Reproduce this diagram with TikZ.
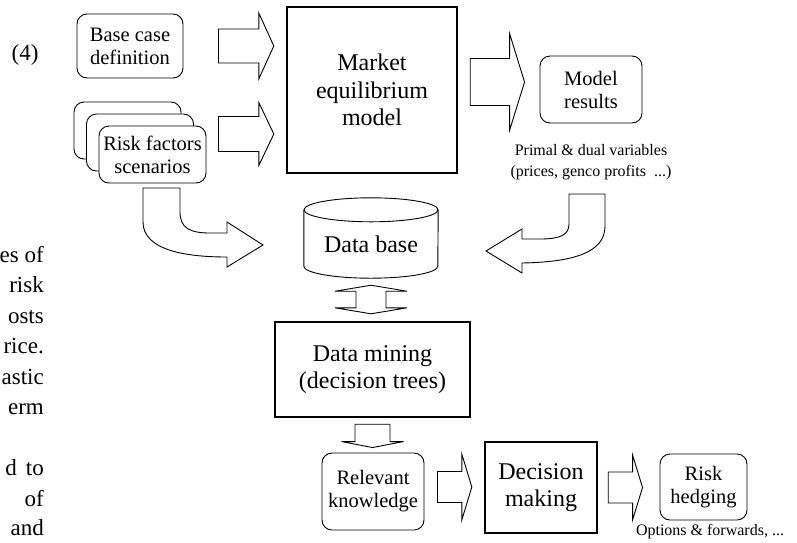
\documentclass[tikz,border=0pt]{standalone}
\usepackage{fontspec}
\setmainfont{Liberation Serif}
\usetikzlibrary{calc}

% fat arrows: tail, tip, shaft half width, head half width, head length
\newcommand{\rarrow}[5]{\draw[fat] let \p1=(#1), \p2=(#2) in (\x1,\y1+#3pt) -- (\x2-#5pt,\y1+#3pt) -- (\x2-#5pt,\y1+#4pt) -- (\x2,\y1) -- (\x2-#5pt,\y1-#4pt) -- (\x2-#5pt,\y1-#3pt) -- (\x1,\y1-#3pt) -- cycle;}
\newcommand{\darrow}[5]{\draw[fat] let \p1=(#1), \p2=(#2) in (\x1-#3pt,\y1) -- (\x1-#3pt,\y2+#5pt) -- (\x1-#4pt,\y2+#5pt) -- (\x1,\y2) -- (\x1+#4pt,\y2+#5pt) -- (\x1+#3pt,\y2+#5pt) -- (\x1+#3pt,\y1) -- cycle;}
\newcommand{\udarrow}[5]{\draw[fat] let \p1=(#1), \p2=(#2) in (\x1,\y1) -- (\x1+#4pt,\y1-#5pt) -- (\x1+#3pt,\y1-#5pt) -- (\x1+#3pt,\y2+#5pt) -- (\x1+#4pt,\y2+#5pt) -- (\x1,\y2) -- (\x1-#4pt,\y2+#5pt) -- (\x1-#3pt,\y2+#5pt) -- (\x1-#3pt,\y1-#5pt) -- (\x1-#4pt,\y1-#5pt) -- cycle;}

\begin{document}
\begin{tikzpicture}[x=1pt, y=-1pt,
	rbox/.style={draw, fill=white, line width=0.9pt, rounded corners=10pt, align=center, inner sep=0pt, font=\fontsize{20.5}{23}\selectfont},
	bigbox/.style={draw, line width=2.4pt, align=center, inner sep=0pt, font=\fontsize{24}{27.5}\selectfont},
	fat/.style={draw, fill=white, line width=0.9pt, line join=miter},
	note/.style={font=\fontsize{16}{21}\selectfont, align=center, inner sep=0pt},
	pagetxt/.style={font=\fontsize{23}{23}\selectfont, anchor=base east, inner sep=0pt}]
	\useasboundingbox (0,0) rectangle (797,542);
	\clip (0,0) rectangle (797,542);
	\foreach \s/\yy [count=\i] in {es of/262, risk/292.5, osts/323, rice./353.5, astic/384, erm/414.5, d\hspace{9pt}to/475.5, of/506, and/535}
		\node[pagetxt] (txt\i) at (44,\yy) {\s};
	\node[font=\fontsize{23}{23}\selectfont] (eqn) at (25,55) {(4)};
	\node[rbox, minimum width=106pt, minimum height=64pt] (base) at (130,46) {Base case\\definition};
	\node[rbox, minimum width=107pt, minimum height=57pt] (risk1) at (127.5,130.5) {};
	\node[rbox, minimum width=107pt, minimum height=57pt] (risk2) at (140,142.5) {};
	\node[rbox, minimum width=107pt, minimum height=57pt] (risk) at (152.5,154.5) {Risk factors\\scenarios};
	\node[bigbox, minimum width=170pt, minimum height=166pt] (market) at (372,90) {Market\\equilibrium\\model};
	\node[rbox, minimum width=102pt, minimum height=67pt] (results) at (591,89.5) {Model\\results};
	\node[note] (vars) at (591,162) {Primal \& dual variables\\(prices, genco profits~~...)};
	\node[minimum width=134pt, minimum height=68pt, inner sep=0pt, font=\fontsize{24}{27}\selectfont] (db) at (371,244) {Data base};
	\draw[line width=0.9pt] (db.north) ellipse [x radius=67pt, y radius=12pt];
	\draw[line width=0.9pt] (db.north west) -- ([yshift=12pt]db.south west) arc[start angle=180, end angle=360, x radius=67pt, y radius=12pt] -- (db.north east);
	\node[bigbox, minimum width=195pt, minimum height=95pt] (mining) at (372.5,369.5) {Data mining\\(decision trees)};
	\node[rbox, minimum width=102pt, minimum height=77pt] (know) at (373,491.5) {Relevant\\knowledge};
	\node[bigbox, minimum width=112pt, minimum height=91pt] (decide) at (541,487.5) {Decision\\making};
	\node[rbox, minimum width=87pt, minimum height=66pt] (hedge) at (703.5,487) {Risk\\hedging};
	\node[note, anchor=base] (opts) at (710,535) {Options \& forwards, ...};
	\rarrow{[xshift=35pt]base.east}{[xshift=-12pt]market.west}{17}{33}{15}
	\rarrow{[shift={(12pt,20.5pt)}]risk.east}{[xshift=-12pt]market.west}{17.5}{31.5}{15}
	\rarrow{[shift={(12pt,8pt)}]market.east}{[xshift=-15pt]results.west}{23.5}{48.5}{15}
	\udarrow{[yshift=-7pt]db.south}{[yshift=7pt]mining.north}{15}{36}{6}
	\darrow{[yshift=-6pt]mining.south}{[yshift=5pt]know.north}{17.5}{31}{6}
	\rarrow{[shift={(13pt,4.5pt)}]know.east}{[xshift=-12pt]decide.west}{15.5}{33}{10}
	\rarrow{[xshift=10pt]decide.east}{[xshift=-17pt]hedge.west}{15.5}{32.5}{10}
	\draw[fat] (180,188) -- (143,188) -- (143,222) .. controls (143,250) and (185,257) .. (227,257) -- (227,267) -- (263,245) -- (227,222) -- (227,233) -- (210,233) .. controls (190,233) and (180,228) .. (180,212) -- cycle;
	\draw[fat] (569,194) -- (605,194) -- (605,226) .. controls (605,252) and (575,262) .. (522,263) -- (522,273) -- (486,251) -- (522,229) -- (522,239) -- (540,239) .. controls (560,239) and (569,235) .. (569,224) -- cycle;
\end{tikzpicture}
\end{document}
